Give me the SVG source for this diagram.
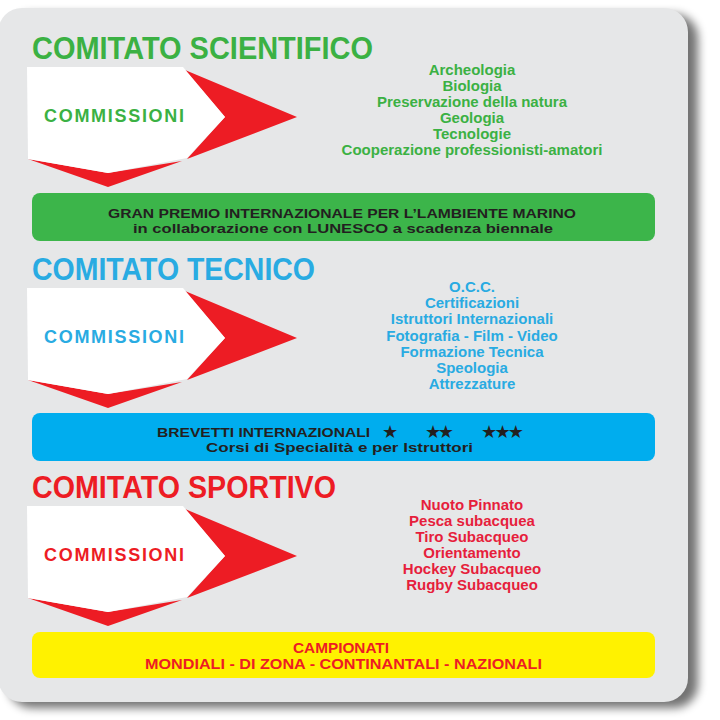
<svg xmlns="http://www.w3.org/2000/svg" width="720" height="720" viewBox="0 0 720 720">
<style>
.t{font-family:"Liberation Sans",Arial,Helvetica,sans-serif;font-weight:bold}
.title{font-size:31px}
.com{font-size:18px}
.list{font-size:15px;text-anchor:middle}
.ban{font-size:13px;fill:#231f20}
.star{font-family:"DejaVu Sans",sans-serif;font-size:18px;fill:#231f20}
.g{fill:#3bb143}
.b{fill:#29abe2}
.r{fill:#ed1c24}
.rl{fill:#e61e3c}
.red{fill:#ed1c24}
.wh{fill:#ffffff}
</style>
<defs>
<filter id="sh" x="-5%" y="-5%" width="110%" height="110%"><feGaussianBlur stdDeviation="5"/></filter>
<g id="chev">
<polygon class="red" points="185,70 297,117 187,159 225,117"/>
<polygon class="red" points="28,159 108,187 182,161 108,173"/>
<polygon class="wh" points="27,67 183,67 225,117 187,158 108,173 28,159"/>
</g>
</defs>
<rect x="0" y="0" width="720" height="720" fill="#ffffff"/>
<g id="card">
<rect x="8" y="14" width="690" height="694" rx="24" fill="#000" opacity="0.55" filter="url(#sh)"/>
<rect x="-2" y="8" width="690" height="694" rx="24" fill="#e6e7e8"/>
</g>

<!-- Section 1 -->
<g id="comitato-scientifico">
<text class="t title g" x="32" y="59" textLength="341" lengthAdjust="spacingAndGlyphs">COMITATO SCIENTIFICO</text>
</g>
<g id="commissioni-scientifico">
<use href="#chev"/>
<text class="t com g" x="44" y="122" textLength="140">COMMISSIONI</text>
</g>
<g id="lista-scientifico" class="t list g">
<text x="472" y="75">Archeologia</text>
<text x="472" y="91">Biologia</text>
<text x="472" y="107">Preservazione della natura</text>
<text x="472" y="123">Geologia</text>
<text x="472" y="139">Tecnologie</text>
<text x="472" y="155">Cooperazione professionisti-amatori</text>
</g>
<g id="gran-premio">
<rect x="32" y="193" width="623" height="48" rx="8" fill="#3cb54a"/>
<text class="t ban" x="108" y="218" textLength="468" lengthAdjust="spacingAndGlyphs">GRAN PREMIO INTERNAZIONALE PER L’LAMBIENTE MARINO</text>
<text class="t ban" x="133" y="233" textLength="420" lengthAdjust="spacingAndGlyphs">in collaborazione con LUNESCO a scadenza biennale</text>
</g>

<!-- Section 2 -->
<g id="comitato-tecnico">
<text class="t title b" x="32" y="280" textLength="283" lengthAdjust="spacingAndGlyphs">COMITATO TECNICO</text>
</g>
<g id="commissioni-tecnico">
<use href="#chev" transform="translate(0,221)"/>
<text class="t com b" x="44" y="343" textLength="140">COMMISSIONI</text>
</g>
<g id="lista-tecnico" class="t list b">
<text x="472" y="292">O.C.C.</text>
<text x="472" y="308">Certificazioni</text>
<text x="472" y="324">Istruttori Internazionali</text>
<text x="472" y="341">Fotografia - Film - Video</text>
<text x="472" y="357">Formazione Tecnica</text>
<text x="472" y="373">Speologia</text>
<text x="472" y="389">Attrezzature</text>
</g>
<g id="brevetti">
<rect x="32" y="413" width="623" height="48" rx="8" fill="#00adee"/>
<text class="t ban" x="157" y="437" textLength="213" lengthAdjust="spacingAndGlyphs">BREVETTI INTERNAZIONALI</text>
<text class="star" x="382" y="438">★</text>
<text class="star" x="425" y="438" textLength="29" lengthAdjust="spacing">★★</text>
<text class="star" x="481" y="438" textLength="43" lengthAdjust="spacing">★★★</text>
<text class="t ban" x="206" y="452" textLength="267" lengthAdjust="spacingAndGlyphs">Corsi di Specialità e per Istruttori</text>
</g>

<!-- Section 3 -->
<g id="comitato-sportivo">
<text class="t title r" x="32" y="498" textLength="304" lengthAdjust="spacingAndGlyphs">COMITATO SPORTIVO</text>
</g>
<g id="commissioni-sportivo">
<use href="#chev" transform="translate(0,439)"/>
<text class="t com r" x="44" y="561" textLength="140">COMMISSIONI</text>
</g>
<g id="lista-sportivo" class="t list rl">
<text x="472" y="510">Nuoto Pinnato</text>
<text x="472" y="526">Pesca subacquea</text>
<text x="472" y="542">Tiro Subacqueo</text>
<text x="472" y="558">Orientamento</text>
<text x="472" y="574">Hockey Subacqueo</text>
<text x="472" y="590">Rugby Subacqueo</text>
</g>
<g id="campionati">
<rect x="32" y="632" width="623" height="46" rx="8" fill="#fff200"/>
<text class="t r" font-size="15" x="293" y="653" textLength="96" lengthAdjust="spacingAndGlyphs">CAMPIONATI</text>
<text class="t r" font-size="15" x="145" y="669" textLength="397" lengthAdjust="spacingAndGlyphs">MONDIALI - DI ZONA - CONTINANTALI - NAZIONALI</text>
</g>
<g id="connectors"/>
</svg>
